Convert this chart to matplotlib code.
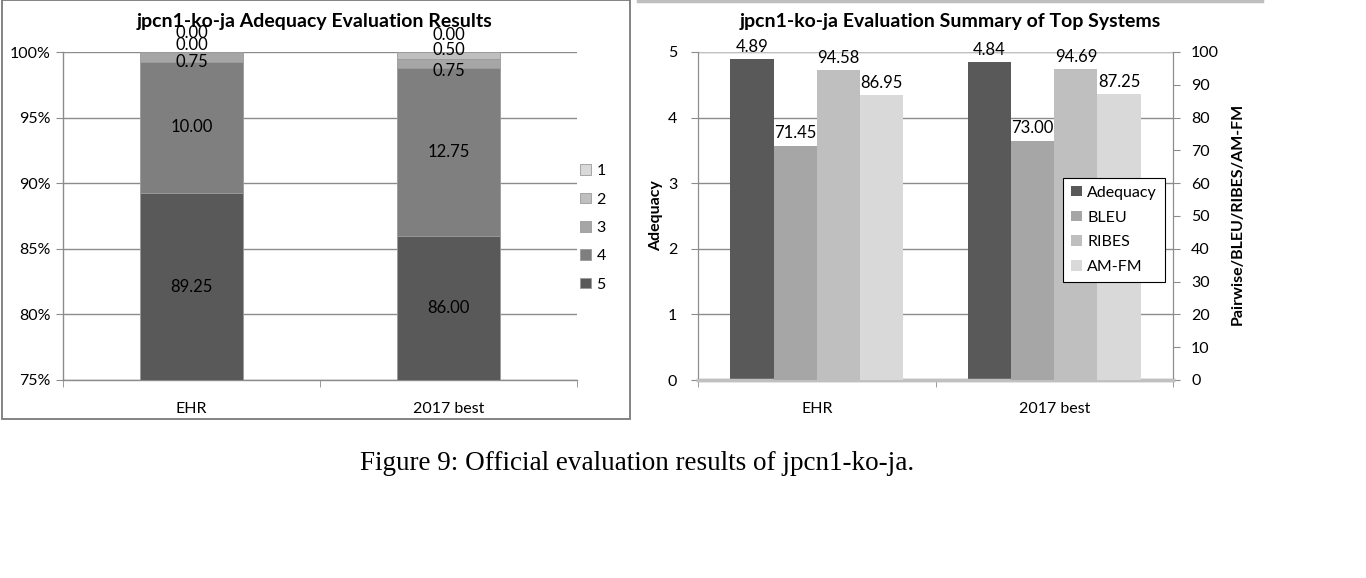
import matplotlib
matplotlib.use("Agg")
import matplotlib.pyplot as plt
from matplotlib.patches import Rectangle
from matplotlib.lines import Line2D
import numpy as np

# ---------------- data ----------------
systems = ["EHR", "2017 best"]
grades = ["5", "4", "3", "2", "1"]          # stacking order bottom -> top
grade_share = {                              # percent of sentences
    "5": [89.25, 86.00],
    "4": [10.00, 12.75],
    "3": [0.75, 0.75],
    "2": [0.00, 0.50],
    "1": [0.00, 0.00],
}
adequacy = [4.89, 4.84]
bleu = [71.45, 73.00]
ribes = [94.58, 94.69]
amfm = [86.95, 87.25]
metric_names = ["Adequacy", "BLEU", "RIBES", "AM-FM"]

# ---------------- style ----------------
W, H = 1366, 578
DPI = 100
FONT = "Lato"
plt.rcParams["font.family"] = [FONT, "DejaVu Sans"]
GRID = "#8c8c8c"
grade_colors = {"5": "#595959", "4": "#7f7f7f", "3": "#a6a6a6", "2": "#bfbfbf", "1": "#d9d9d9"}
metric_colors = ["#595959", "#a6a6a6", "#bfbfbf", "#d9d9d9"]
TICK_FS = 11.5
LABEL_FS = 12


def fx(px):
    return px / W


def fy(py):
    return 1 - py / H


fig = plt.figure(figsize=(W / DPI, H / DPI), dpi=DPI)

# ================= left chart =================
axL = fig.add_axes([fx(63), fy(380), fx(577) - fx(63), fy(52) - fy(380)])
x = np.arange(len(systems))
YMIN, YMAX = 75, 100
bottom = np.zeros(len(systems))
# label offsets (pixels) for thin segments so labels don't collide
label_off = {
    ("3", 0): -5, ("2", 0): 7, ("1", 0): 19,
    ("3", 1): -8, ("2", 1): 5, ("1", 1): 17,
}
for g in grades:
    vals = np.array(grade_share[g])
    axL.bar(x, vals, 0.4, bottom=bottom, color=grade_colors[g],
            edgecolor="#9a9a9a", linewidth=0.6, label=g, zorder=3)
    for i, v in enumerate(vals):
        lo = max(bottom[i], YMIN)
        hi = bottom[i] + v
        yc = (lo + hi) / 2
        off = label_off.get((g, i), 0) * 72 / DPI
        axL.annotate(f"{v:.2f}", (x[i], yc), xytext=(0, off), textcoords="offset points",
                     ha="center", va="center", fontsize=LABEL_FS, color="black",
                     annotation_clip=False, zorder=5)
    bottom += vals

axL.set_xlim(-0.5, 1.5)
axL.set_ylim(YMIN, YMAX)
axL.set_yticks([75, 80, 85, 90, 95, 100])
axL.set_yticklabels([f"{t}%" for t in [75, 80, 85, 90, 95, 100]], fontsize=TICK_FS)
axL.grid(axis="y", color=GRID, linewidth=1, zorder=0)
axL.set_axisbelow(True)
axL.set_xticks(x)
axL.set_xticklabels(systems, fontsize=TICK_FS)
axL.set_xticks([-0.5, 0.5, 1.5], minor=True)
axL.tick_params(axis="x", which="major", length=0, pad=16)
axL.tick_params(axis="x", which="minor", length=5, color=GRID, direction="out")
axL.tick_params(axis="y", length=5, color=GRID, pad=4)
for s in ["top", "right"]:
    axL.spines[s].set_visible(False)
for s in ["left", "bottom"]:
    axL.spines[s].set_color(GRID)
    axL.spines[s].set_linewidth(1)

hL, lL = axL.get_legend_handles_labels()
legL = fig.legend(hL[::-1], lL[::-1], loc="center left",
                  bbox_to_anchor=(fx(566), fy(228)), frameon=False, fontsize=TICK_FS,
                  handlelength=0.65, handleheight=0.65, handletextpad=0.35,
                  labelspacing=0.9)

fig.text(fx(315), fy(21), "jpcn1-ko-ja Adequacy Evaluation Results", ha="center",
         va="center", fontsize=14, fontweight="bold")

# border around left chart
fig.add_artist(Rectangle((fx(2), fy(419)), fx(630) - fx(2), fy(0) - fy(419),
                         transform=fig.transFigure, fill=False,
                         edgecolor="#7a7a7a", linewidth=1.3))

# ================= right chart =================
axR = fig.add_axes([fx(698), fy(380), fx(1173) - fx(698), fy(52) - fy(380)])
axR2 = axR.twinx()
bw = 0.182
offs = (np.arange(4) - 1.5) * bw
series = [adequacy, bleu, ribes, amfm]
handles = []
for k, (name, vals) in enumerate(zip(metric_names, series)):
    target = axR if k == 0 else axR2
    bars = target.bar(x + offs[k], vals, bw, color=metric_colors[k], label=name, zorder=3)
    handles.append(bars)
    for i, v in enumerate(vals):
        target.annotate(f"{v:.2f}", (x[i] + offs[k], v), xytext=(0, 3),
                        textcoords="offset points", ha="center", va="bottom",
                        fontsize=LABEL_FS, annotation_clip=False)

axR.set_xlim(-0.5, 1.5)
axR.set_ylim(0, 5)
axR2.set_ylim(0, 100)
axR.set_yticks(range(0, 6))
axR.set_yticklabels([str(t) for t in range(0, 6)], fontsize=TICK_FS)
axR2.set_yticks(range(0, 101, 10))
axR2.set_yticklabels([str(t) for t in range(0, 101, 10)], fontsize=TICK_FS)
axR.grid(axis="y", color=GRID, linewidth=1)
axR.set_axisbelow(True)
axR.set_xticks(x)
axR.set_xticklabels(systems, fontsize=TICK_FS)
axR.set_xticks([-0.5, 0.5, 1.5], minor=True)
axR.tick_params(axis="x", which="major", length=0, pad=16)
axR.tick_params(axis="x", which="minor", length=5, color=GRID)
axR.tick_params(axis="y", length=5, color=GRID, pad=10)
axR2.tick_params(axis="y", length=5, color=GRID, pad=8)
for a in (axR, axR2):
    a.spines["top"].set_visible(False)
    a.spines["left"].set_color(GRID)
    a.spines["right"].set_color(GRID)
    a.spines["bottom"].set_color("#c0c0c0")
    a.spines["bottom"].set_linewidth(2.5)

axR.axhline(5, color="#c0c0c0", linewidth=1.5, zorder=1)

legR = fig.legend(handles, metric_names, loc="center",
                  bbox_to_anchor=(fx(1114), fy(230)), frameon=True, fancybox=False,
                  edgecolor="black", fontsize=TICK_FS, handlelength=0.65,
                  handleheight=0.65, handletextpad=0.35, labelspacing=0.68,
                  borderpad=0.5, framealpha=1)
legR.get_frame().set_linewidth(0.8)

fig.text(fx(950), fy(21), "jpcn1-ko-ja Evaluation Summary of Top Systems", ha="center",
         va="center", fontsize=14, fontweight="bold")
fig.text(fx(656), fy(216), "Adequacy", rotation=90, ha="center", va="center",
         fontsize=11.5, fontweight="bold")
fig.text(fx(1238), fy(214), "Pairwise/BLEU/RIBES/AM-FM", rotation=90, ha="center",
         va="center", fontsize=11.5, fontweight="bold")

# light top border of right chart
fig.add_artist(Line2D([fx(638), fx(1262)], [fy(1), fy(1)], transform=fig.transFigure,
                      color="#bfbfbf", linewidth=2.5))

# caption
fig.text(fx(637), fy(464), "Figure 9: Official evaluation results of jpcn1-ko-ja.",
         ha="center", va="center", fontsize=19.5, family=["Liberation Serif", "DejaVu Serif"])

fig.savefig("out.png", dpi=DPI)
